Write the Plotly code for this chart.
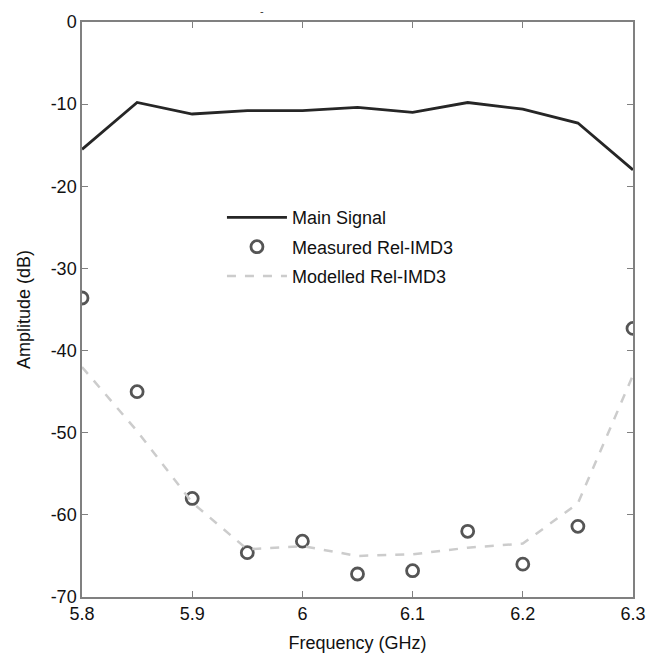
import plotly.graph_objects as go

freq = [5.8, 5.85, 5.9, 5.95, 6.0, 6.05, 6.1, 6.15, 6.2, 6.25, 6.3]
main_signal = [-15.5, -9.8, -11.2, -10.8, -10.8, -10.4, -11.0, -9.8, -10.6, -12.3, -18.0]
measured = [-33.6, -45.0, -58.0, -64.6, -63.2, -67.2, -66.8, -62.0, -66.0, -61.4, -37.3]
modelled = [-42.0, -49.8, -58.5, -64.2, -63.8, -65.0, -64.8, -64.0, -63.5, -58.6, -43.0]

x_ticks = [5.8, 5.9, 6.0, 6.1, 6.2, 6.3]
x_labels = ["5.8", "5.9", "6", "6.1", "6.2", "6.3"]
y_ticks = [0, -10, -20, -30, -40, -50, -60, -70]
y_labels = ["0", "-10", "-20", "-30", "-40", "-50", "-60", "-70"]

FONT = "Liberation Sans, Arial"

fig = go.Figure()
fig.add_trace(go.Scatter(x=freq, y=main_signal, mode="lines", name="Main Signal", legendgroup="a",
                         line=dict(color="#262626", width=2.8)))
fig.add_trace(go.Scatter(x=freq, y=measured, mode="markers", name="Measured Rel-IMD3", legendgroup="b",
                         marker=dict(symbol="circle-open", size=12, color="#555555",
                                     line=dict(width=2.8, color="#555555"))))
fig.add_trace(go.Scatter(x=freq, y=modelled, mode="lines", name="Modelled Rel-IMD3", legendgroup="c",
                         line=dict(color="#cccccc", width=2.5, dash="dash")))

axis_common = dict(showline=True, linecolor="#808080", linewidth=1.5, mirror="allticks",
                   ticks="inside", ticklen=6, tickcolor="#808080", showgrid=False,
                   zeroline=False, automargin=False,
                   tickfont=dict(family=FONT, size=18, color="#111111"))

fig.update_xaxes(range=[5.8, 6.3], tickvals=x_ticks, ticktext=x_labels,
                 title=dict(text="Frequency (GHz)", font=dict(family=FONT, size=18, color="#111111"), standoff=13),
                 **axis_common)
fig.update_yaxes(range=[-70, 0], tickvals=y_ticks, ticktext=y_labels,
                 title=dict(text="Amplitude (dB)", font=dict(family=FONT, size=18, color="#111111"), standoff=15),
                 **axis_common)

# page body has an 8px margin, so the figure is sized to fit the 662x655 window
fig.update_layout(
    width=654, height=647,
    margin=dict(l=74, r=29, t=14, b=58),
    plot_bgcolor="white", paper_bgcolor="white",
    font=dict(family=FONT, size=18, color="#111111"),
    showlegend=True,
    legend=dict(x=0.254, y=0.692, xanchor="left", yanchor="top", bgcolor="rgba(0,0,0,0)",
                font=dict(family=FONT, size=18, color="#111111"), itemwidth=60, tracegroupgap=3),
    annotations=[dict(text="-", x=0.321, y=1.0, xref="paper", yref="paper", yanchor="bottom",
                      yshift=4, borderpad=0, showarrow=False, font=dict(size=11, color="#333333"))],
)

fig.write_html("out.html")
